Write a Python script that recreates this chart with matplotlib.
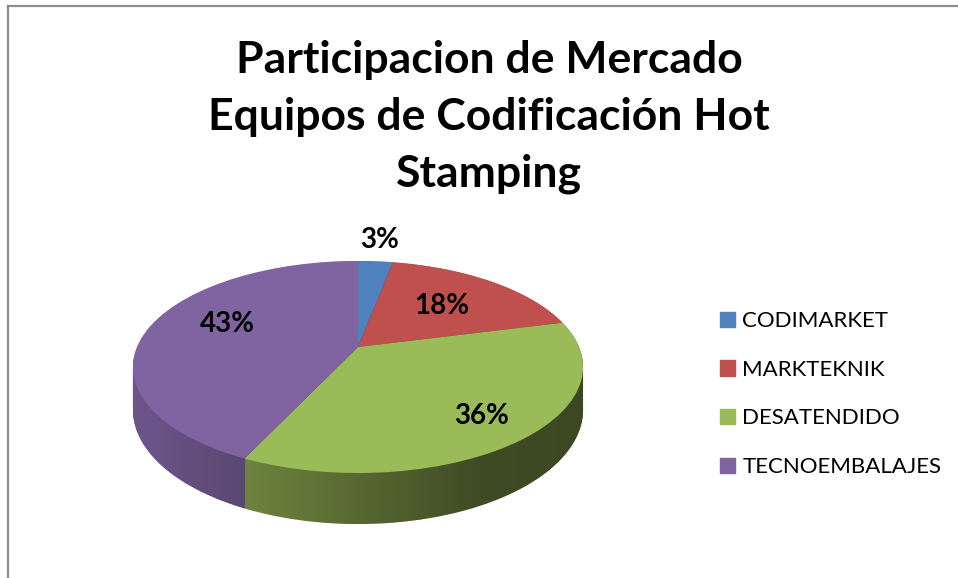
import numpy as np
import matplotlib
matplotlib.use("Agg")
import matplotlib.pyplot as plt
from matplotlib.transforms import Transform
from matplotlib.path import Path
from matplotlib.lines import Line2D
import matplotlib.colors as mcolors

# ---- data ----
categories = ["CODIMARKET", "MARKTEKNIK", "DESATENDIDO", "TECNOEMBALAJES"]
shares = [3, 18, 36, 43]
colors = ["#4f81bd", "#c0504d", "#9bbb59", "#8064a2"]
title = "Participacion de Mercado\nEquipos de Codificación Hot\nStamping"

FONT = ["Lato", "DejaVu Sans"]
W, H = 958, 578
fig = plt.figure(figsize=(W / 100, H / 100), dpi=100)
ax = fig.add_axes([0, 0, 1, 1])

# perspective view of the pie disc (pixel space, y downward)
CX, RX0 = 358.0, 221.0
PA, PB, PC = -36.75, 347.0, 0.1887
D0 = 41.4


class Persp(Transform):
    input_dims = 2
    output_dims = 2
    is_separable = False

    def __init__(self, z):
        super().__init__()
        self.z = z

    def transform_non_affine(self, values):
        v = np.asarray(values, dtype=float)
        x, y = v[:, 0], v[:, 1]
        den = 1 + PC * y
        X = CX + RX0 * x / den
        Y = (PA * y + PB + D0 * self.z) / den
        return np.column_stack([X, Y])


side_cols = [tuple(c * 0.85 for c in mcolors.to_rgb(col)) for col in colors]
nlay = 60
for k in range(nlay, 0, -1):
    z = k / nlay
    ws, _ = ax.pie(shares, colors=side_cols, startangle=90, counterclock=False,
                   radius=1, wedgeprops=dict(linewidth=0))
    tr = Persp(z) + ax.transData
    for w in ws:
        w.set_transform(tr)
        w.set_zorder(2)

# gradient shading on the side wall (lighter on the left, darker on the right)
t = np.linspace(0, 2 * np.pi, 400)
ring = np.column_stack([np.cos(t), np.sin(t)])
pts = np.vstack([Persp(0).transform_non_affine(ring), Persp(1).transform_non_affine(ring)])


def hull(p):
    p = sorted(map(tuple, p))
    def half(seq):
        out = []
        for q in seq:
            while len(out) >= 2 and ((out[-1][0] - out[-2][0]) * (q[1] - out[-2][1])
                                     - (out[-1][1] - out[-2][1]) * (q[0] - out[-2][0])) <= 0:
                out.pop()
            out.append(q)
        return out
    lo = half(p)
    up = half(p[::-1])
    return np.array(lo[:-1] + up[:-1])


hv = hull(pts)
clip = Path(np.vstack([hv, hv[:1]]), closed=True)
xmin, xmax = pts[:, 0].min(), pts[:, 0].max()
ymin, ymax = pts[:, 1].min(), pts[:, 1].max()
grad = np.linspace(0, 1, 512)[None, :]
cmap = mcolors.LinearSegmentedColormap.from_list(
    "sh", [(0.0, (0, 0, 0, 0.0)), (0.77, (0, 0, 0, 0.53)), (1.0, (0, 0, 0, 0.55))])
im = ax.imshow(grad, extent=[xmin, xmax, ymax, ymin], cmap=cmap, aspect="auto",
               zorder=3, interpolation="bilinear")
im.set_clip_path(clip, transform=ax.transData)

# top face
wedges, _ = ax.pie(shares, colors=colors, startangle=90, counterclock=False,
                   radius=1, wedgeprops=dict(linewidth=0))
top_tr = Persp(0) + ax.transData
for w in wedges:
    w.set_transform(top_tr)
    w.set_zorder(4)

# percentage labels along each slice's mid angle
label_dist = [1.31, 0.60, 0.78, 0.66]
label_turn = [0, 0, 0, 8]  # degrees
cum = np.cumsum([0] + shares[:-1])
total = sum(shares)
for s, c0, d, dt in zip(shares, cum, label_dist, label_turn):
    mid = np.deg2rad((c0 + s / 2) / total * 360 + dt)
    px, py = Persp(0).transform_non_affine(np.array([[d * np.sin(mid), d * np.cos(mid)]]))[0]
    ax.text(px, py, f"{s}%", ha="center", va="center", fontsize=20,
            fontweight="bold", family=FONT, zorder=10)

ax.set_aspect("auto")
ax.set_xlim(0, W)
ax.set_ylim(H, 0)
ax.axis("off")

# title
fig.text(489 / W, 1 - 117 / H, title, ha="center", va="center", fontsize=32,
         fontweight="bold", family=FONT, linespacing=1.52)

# legend
handles = [plt.Rectangle((0, 0), 1, 1, color=c) for c in colors]
fig.legend(handles, categories, loc="center left", bbox_to_anchor=(700 / W, 1 - 394 / H),
           frameon=False, prop=dict(family=FONT, size=16), handlelength=0.68,
           handleheight=0.68, handletextpad=0.32, labelspacing=1.29)

# chart-area border (top and left edges)
fig.add_artist(Line2D([8 / W, 1], [1 - 5.5 / H, 1 - 5.5 / H], color="#8c8c8c", lw=1.6))
fig.add_artist(Line2D([8 / W, 8 / W], [0, 1 - 5.5 / H], color="#8c8c8c", lw=1.6))

fig.savefig("out.png", dpi=100, facecolor="white")
